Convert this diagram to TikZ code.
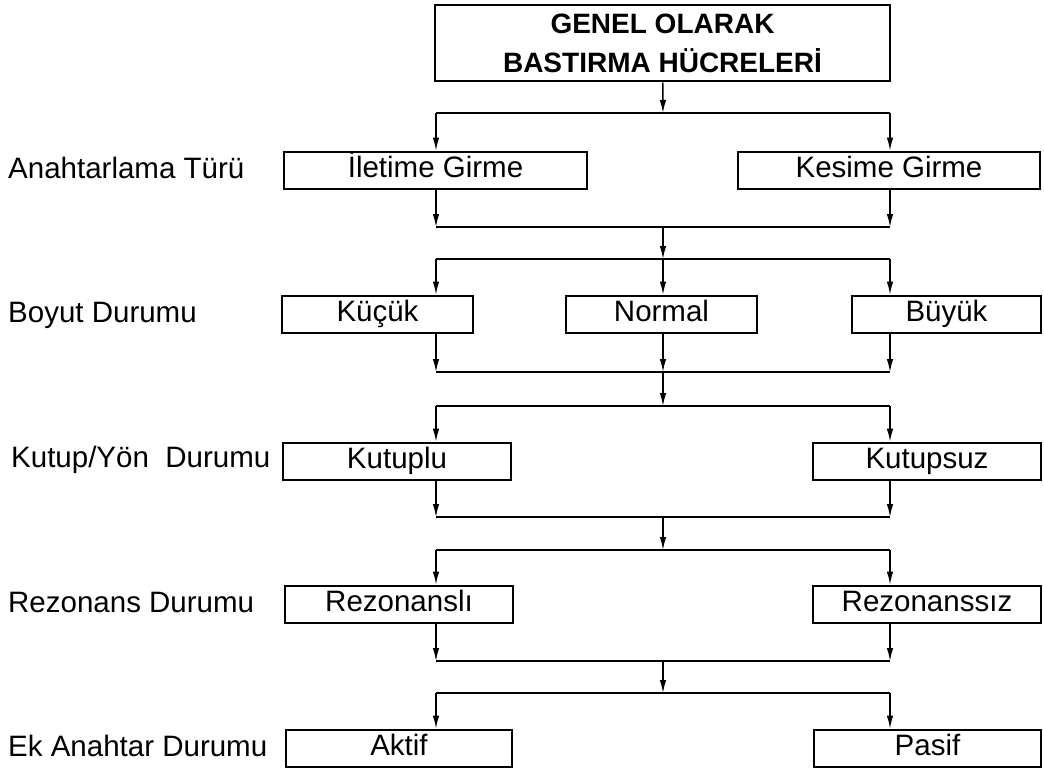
\documentclass[tikz,border=0pt]{standalone}
\usepackage{fontspec}
\setmainfont{Liberation Sans}
\usetikzlibrary{arrows.meta,positioning}

\begin{document}
\begin{tikzpicture}[x=1pt, y=-1pt, >={Latex[length=13pt,width=6.5pt]},
        box/.style={draw, line width=2.8pt, minimum height=37pt, inner sep=0pt,
            text height=21pt, text depth=8pt, font=\fontsize{29.5}{35}\selectfont},
        head/.style={draw, line width=2.8pt, minimum width=455pt, minimum height=76pt,
            align=center, font=\bfseries\fontsize{28}{39}\selectfont},
        lbl/.style={anchor=base west, inner sep=0pt, font=\fontsize{29.5}{35}\selectfont},
        conn/.style={line width=1.4pt}]
        \useasboundingbox (0,0) rectangle (1044,774);
        % boxes
        \node[head] (top) at (662.5,43) {GENEL OLARAK\\BASTIRMA HÜCRELERİ};
        \node[box, minimum width=303pt] (ilet) at (435.5,170.5) {İletime Girme};
        \node[box, minimum width=302pt] (kes) at (889,170.5) {Kesime Girme};
        \node[box, minimum width=191pt] (kuc) at (377.5,314.5) {Küçük};
        \node[box, minimum width=191pt] (norm) at (661.5,314.5) {Normal};
        \node[box, minimum width=189pt] (buy) at (946.5,314.5) {Büyük};
        \node[box, minimum width=228pt] (kutlu) at (397,461.5) {Kutuplu};
        \node[box, minimum width=228pt] (kutsuz) at (927,461.5) {Kutupsuz};
        \node[box, minimum width=228pt] (rezlu) at (399,604.5) {Rezonanslı};
        \node[box, minimum width=228pt] (rezsiz) at (927,604.5) {Rezonanssız};
        \node[box, minimum width=226pt] (akt) at (399,748.5) {Aktif};
        \node[box, minimum width=227pt] (pas) at (927.5,748.5) {Pasif};
        % row labels
        \node[lbl] (l1) at (8,178) {Anahtarlama Türü};
        \node[lbl] (l2) at (8,322) {Boyut Durumu};
        \node[lbl] (l3) at (11,467) {Kutup/Yön~~Durumu};
        \node[lbl] (l4) at (8,612) {Rezonans Durumu};
        \node[lbl] (l5) at (8,756) {Ek Anahtar Durumu};
        % junctions
        \foreach \n/\y in {b1/113, m2/227, b2/259, m3/372, b3/406, m4/517, b4/550, m5/661, b5/693} {
            \coordinate (\n-l) at (436,\y);
            \coordinate (\n-c) at (663,\y);
            \coordinate (\n-r) at (890,\y);
        }
        \foreach \n in {b1, m2, b2, m3, b3, m4, b4, m5, b5}
            \draw[conn] (\n-l) -- (\n-r);
        \path[conn,->]
        (top) edge (b1-c)
        (b1-l) edge (b1-l |- ilet.north)
        (b1-r) edge (b1-r |- kes.north)
        (ilet.south -| m2-l) edge (m2-l)
        (kes.south -| m2-r) edge (m2-r)
        (m2-c) edge (b2-c)
        (b2-l) edge (b2-l |- kuc.north)
        (b2-c) edge (b2-c |- norm.north)
        (b2-r) edge (b2-r |- buy.north)
        (kuc.south -| m3-l) edge (m3-l)
        (norm.south -| m3-c) edge (m3-c)
        (buy.south -| m3-r) edge (m3-r)
        (m3-c) edge (b3-c)
        (b3-l) edge (b3-l |- kutlu.north)
        (b3-r) edge (b3-r |- kutsuz.north)
        (kutlu.south -| m4-l) edge (m4-l)
        (kutsuz.south -| m4-r) edge (m4-r)
        (m4-c) edge (b4-c)
        (b4-l) edge (b4-l |- rezlu.north)
        (b4-r) edge (b4-r |- rezsiz.north)
        (rezlu.south -| m5-l) edge (m5-l)
        (rezsiz.south -| m5-r) edge (m5-r)
        (m5-c) edge (b5-c)
        (b5-l) edge (b5-l |- akt.north)
        (b5-r) edge (b5-r |- pas.north)
        ;
    \end{tikzpicture}
\end{document}
